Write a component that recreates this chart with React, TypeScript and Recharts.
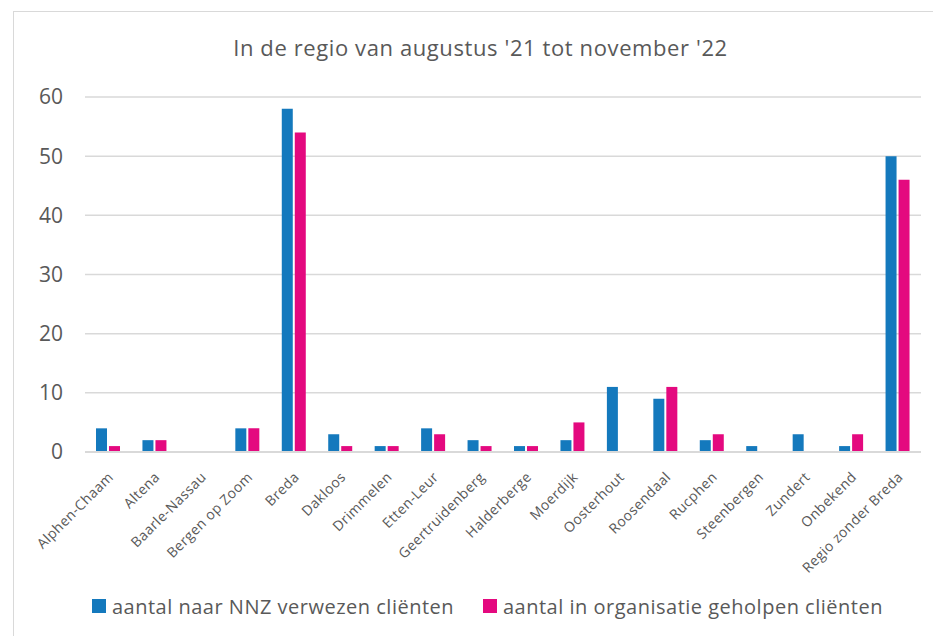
import { Bar, BarChart, CartesianGrid, Legend, XAxis, YAxis } from 'recharts';

const regions = [
  'Alphen-Chaam',
  'Altena',
  'Baarle-Nassau',
  'Bergen op Zoom',
  'Breda',
  'Dakloos',
  'Drimmelen',
  'Etten-Leur',
  'Geertruidenberg',
  'Halderberge',
  'Moerdijk',
  'Oosterhout',
  'Roosendaal',
  'Rucphen',
  'Steenbergen',
  'Zundert',
  'Onbekend',
  'Regio zonder Breda'
];

const verwezen = [4, 2, 0, 4, 58, 3, 1, 4, 2, 1, 2, 11, 9, 2, 1, 3, 1, 50];
const geholpen = [1, 2, 0, 4, 54, 1, 1, 3, 1, 1, 5, 0, 11, 3, 0, 0, 3, 46];

const yTicks = [0, 10, 20, 30, 40, 50, 60];

const seriesNames = {
  verwezen: 'aantal naar NNZ verwezen cliënten',
  geholpen: 'aantal in organisatie geholpen cliënten'
};

const blue = '#1479bd';
const pink = '#e4097f';
const textGray = '#595959';
const gridGray = '#d9d9d9';
const font = "'Open Sans', 'Noto Sans', sans-serif";

const chartData = regions.map((region, i) => ({
  region,
  verwezen: verwezen[i],
  geholpen: geholpen[i]
}));

function RegionTick({ x, y, payload }: { x?: number; y?: number; payload?: { value: string } }) {
  const tx = (x ?? 0) + 6;
  const ty = (y ?? 0) + 18;
  return (
    <text
      x={tx}
      y={ty}
      textAnchor="end"
      fill={textGray}
      fontSize={14}
      letterSpacing={0.4}
      fontFamily={font}
      transform={`rotate(-45, ${tx}, ${ty})`}
    >
      {payload?.value}
    </text>
  );
}

function ChartLegend() {
  const items = [
    { color: blue, label: seriesNames.verwezen, width: 391 },
    { color: pink, label: seriesNames.geholpen, width: 420 }
  ];
  return (
    <div
      style={{
        display: 'flex',
        alignItems: 'center',
        height: 40,
        paddingLeft: 92,
        fontFamily: font,
        fontSize: 20,
        letterSpacing: 0.5,
        color: textGray
      }}
    >
      {items.map((item) => (
        <span key={item.label} style={{ display: 'flex', alignItems: 'center', width: item.width, whiteSpace: 'nowrap' }}>
          <span style={{ display: 'inline-block', width: 14, height: 14, background: item.color, marginRight: 6 }} />
          {item.label}
        </span>
      ))}
    </div>
  );
}

export default function App() {
  return (
    <div style={{ position: 'relative', width: 933, height: 636, overflow: 'hidden', background: '#fff' }}>
      <style>{'body { margin: 0; }'}</style>
      <div
        style={{
          position: 'absolute',
          left: 13,
          top: 11,
          width: 940,
          height: 640,
          border: `1px solid ${gridGray}`,
          boxSizing: 'border-box'
        }}
      />
      <div
        style={{
          position: 'absolute',
          left: 0,
          top: 32,
          width: 961,
          textAlign: 'center',
          fontFamily: font,
          fontSize: 22,
          letterSpacing: 0.6,
          color: textGray
        }}
      >
        In de regio van augustus '21 tot november '22
      </div>
      <div style={{ position: 'absolute', left: 0, top: 0 }}>
        <BarChart
          width={933}
          height={636}
          data={chartData}
          barGap={2}
          barSize={11}
          margin={{ top: 97, right: 12, bottom: 10, left: 0 }}
        >
          <CartesianGrid horizontal vertical={false} stroke={gridGray} strokeWidth={1.5} />
          <XAxis
            dataKey="region"
            interval={0}
            height={134}
            tickLine={false}
            axisLine={{ stroke: gridGray, strokeWidth: 2 }}
            tick={<RegionTick />}
          />
          <YAxis
            width={85}
            domain={[0, 60]}
            ticks={yTicks}
            axisLine={false}
            tickLine={false}
            tickSize={6}
            tickMargin={16}
            tick={{ fill: textGray, fontSize: 21, fontFamily: font }}
          />
          <Legend verticalAlign="bottom" height={40} content={<ChartLegend />} />
          <Bar dataKey="verwezen" name={seriesNames.verwezen} fill={blue} isAnimationActive={false} />
          <Bar dataKey="geholpen" name={seriesNames.geholpen} fill={pink} isAnimationActive={false} />
        </BarChart>
      </div>
    </div>
  );
}
